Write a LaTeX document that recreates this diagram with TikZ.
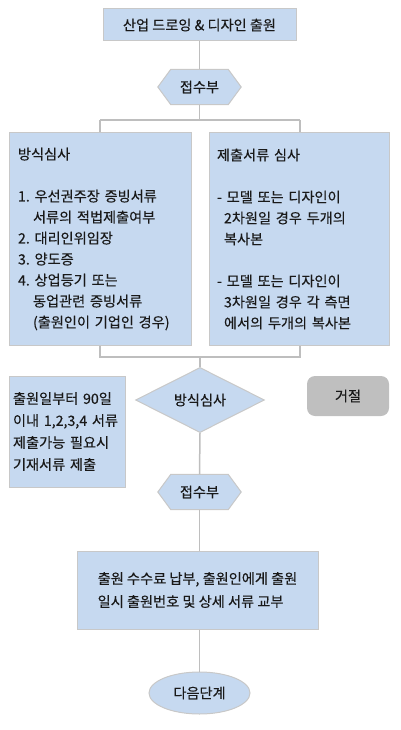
\documentclass[tikz,border=0pt]{standalone}
\usepackage{fontspec}
\setmainfont{Noto Sans CJK KR}[FakeBold=0.3]
\usetikzlibrary{shapes.geometric,backgrounds,calc}
\definecolor{boxfill}{RGB}{198,217,240}
\definecolor{boxline}{RGB}{200,200,200}
\definecolor{conline}{RGB}{190,190,190}
\definecolor{rejfill}{RGB}{191,191,191}
\frenchspacing
\begin{document}
\begin{tikzpicture}[x=1pt,y=-1pt,
  every node/.style={font=\fontsize{14.2}{21}\selectfont, text=black!90},
  box/.style={draw=boxline, line width=1pt, fill=boxfill, inner sep=0pt},
  hexbox/.style={inner sep=0pt, minimum width=83pt, minimum height=35pt},
  conn/.style={draw=conline, line width=1.5pt},
]
\useasboundingbox (0,0) rectangle (400,730);

\node[box, minimum width=193pt, minimum height=32pt] (start) at (199.5,25) {산업 드로잉 \& 디자인 출원};
\node[hexbox] (rec1) at (199.5,87) {접수부};
\node[box, text width=164pt, inner xsep=9pt, minimum height=212pt, align=left] (formal) at (100,239)
 {방식심사\\[21pt]
  1. 우선권주장 증빙서류\\
  \hspace*{15pt}서류의 적법제출여부\\
  2. 대리인위임장\\
  3. 양도증\\
  4. 상업등기 또는\\
  \hspace*{15pt}동업관련 증빙서류\\
  \hspace*{15pt}(출원인이 기업인 경우)};
\node[box, text width=164pt, inner xsep=8pt, minimum height=212pt, align=left] (docs) at (299,239)
 {제출서류 심사\\[21pt]
  - 모델 또는 디자인이\\
  \hspace*{7pt}2차원일 경우 두개의\\
  \hspace*{7pt}복사본\\[21pt]
  - 모델 또는 디자인이\\
  \hspace*{7pt}3차원일 경우 각 측면\\
  \hspace*{7pt}에서의 두개의 복사본};
\node[box, diamond, minimum width=129pt, minimum height=53pt] (check) at (200,400) {방식심사};
\node[box, text width=108pt, inner xsep=4pt, minimum height=111pt, align=left, font=\fontsize{14.2}{22}\selectfont] (note) at (67,431.5)
 {출원일부터 90일\\
  이내 1,2,3,4 서류\\
  제출가능 필요시\\
  기재서류 제출};
\node[fill=rejfill, rounded corners=8pt, minimum width=82pt, minimum height=40pt, inner sep=0pt] (reject) at (348,396) {거절};
\node[hexbox] (rec2) at (199.5,492) {접수부};
\node[box, minimum width=241pt, minimum height=78pt, align=left, font=\fontsize{14.2}{23}\selectfont] (fee) at (197.5,590)
 {출원 수수료 납부, 출원인에게 출원\\
  일시 출원번호 및 상세 서류 교부};
\node[box, ellipse, minimum width=101pt, minimum height=42pt] (next) at (199.5,693) {다음단계};

\begin{scope}[on background layer]
\foreach \h in {rec1,rec2}
  \draw[box] (\h.west) -- ($(\h.north west)+(13,0)$) -- ($(\h.north east)+(-13,0)$)
    -- (\h.east) -- ($(\h.south east)+(-13,0)$) -- ($(\h.south west)+(13,0)$) -- cycle;
\end{scope}

\coordinate (split) at (199.5,120);
\coordinate (jl) at (100,120);
\coordinate (jr) at (300,120);
\coordinate (bl) at (100,357);
\coordinate (br) at (300,357);
\coordinate (merge) at (200,357);

\draw[conn] (start.south) -- (rec1.north);
\draw[conn] (rec1.south) -- (split);
\draw[conn] (jl) -- (jr);
\draw[conn] (jl) -- (jl |- formal.north);
\draw[conn] (jr) -- (jr |- docs.north);
\draw[conn] (bl |- formal.south) -- (bl) -- (br) -- (br |- docs.south);
\draw[conn] (merge) -- (check.north);
\draw[conn] (check.south) -- (rec2.north);
\draw[conn] (rec2.south) -- (fee.north -| rec2.south);
\draw[conn] (fee.south -| next.north) -- (next.north);
\end{tikzpicture}
\end{document}
